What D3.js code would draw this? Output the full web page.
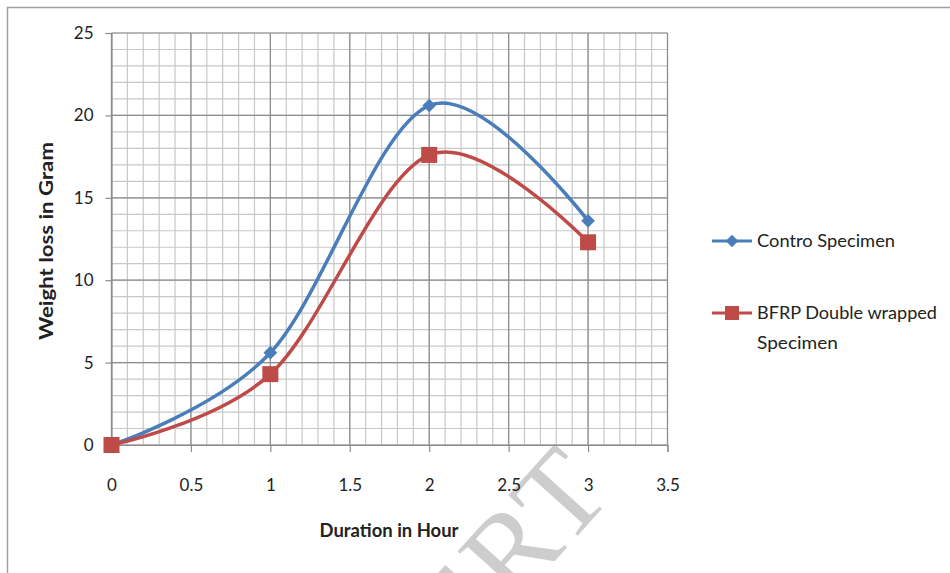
<!DOCTYPE html>
<html><head><meta charset="utf-8">
<script src="https://cdn.jsdelivr.net/npm/d3@7"></script>
<style>body{margin:0;background:#fff}svg{display:block}</style>
</head><body>
<svg id="c" width="950" height="573"></svg>
<script>
const hours = [0, 1, 2, 3];
const controlSpecimen = [0, 5.6, 20.6, 13.6];
const bfrpSpecimen = [0, 4.3, 17.6, 12.3];
const xTicks = [0, 0.5, 1, 1.5, 2, 2.5, 3, 3.5];
const yTicks = [0, 5, 10, 15, 20, 25];
const seriesNames = ["Contro Specimen", ["BFRP Double wrapped", "Specimen"]];

const svg = d3.select("#c");
const font = "Lato, 'Open Sans', sans-serif";
svg.append("rect").attr("x", 7.5).attr("y", 7.5).attr("width", 1000).attr("height", 1000)
  .attr("fill", "#fff").attr("stroke", "#a0a0a0").attr("stroke-width", 1.5);

const x = d3.scaleLinear().domain([0, 3.5]).range([111.5, 667.5]);
const y = d3.scaleLinear().domain([0, 25]).range([445, 33]);

// watermark
svg.append("text").attr("transform", "translate(462,664) rotate(-48)")
  .attr("font-family", "'Liberation Serif', serif").attr("font-size", 120).attr("fill", "#cdcdcd")
  .attr("letter-spacing", 4).text("ERT");

const g = svg.append("g");
// minor grid
d3.range(0, 3.5001, 0.1).forEach(v => {
  g.append("line").attr("x1", x(v)).attr("x2", x(v)).attr("y1", y(0)).attr("y2", y(25))
    .attr("stroke", "#c8c8c8").attr("stroke-width", 1.2);
});
d3.range(0, 25.001, 1).forEach(v => {
  g.append("line").attr("x1", x(0)).attr("x2", x(3.5)).attr("y1", y(v)).attr("y2", y(v))
    .attr("stroke", "#c8c8c8").attr("stroke-width", 1.2);
});
// major grid
xTicks.forEach(v => {
  g.append("line").attr("x1", x(v)).attr("x2", x(v)).attr("y1", y(0)).attr("y2", y(25))
    .attr("stroke", "#8c8c8c").attr("stroke-width", 1.2);
});
yTicks.forEach(v => {
  g.append("line").attr("x1", x(0)).attr("x2", x(3.5)).attr("y1", y(v)).attr("y2", y(v))
    .attr("stroke", "#8c8c8c").attr("stroke-width", 1.2);
});

// axes
const xAxis = svg.append("g").attr("transform", `translate(0,${y(0)})`)
  .call(d3.axisBottom(x).tickValues(xTicks).tickSize(7).tickFormat(d3.format("")));
const yAxis = svg.append("g").attr("transform", `translate(${x(0)},0)`)
  .call(d3.axisLeft(y).tickValues(yTicks).tickSize(6).tickPadding(12));
[xAxis, yAxis].forEach(a => {
  a.select(".domain").attr("stroke", "#8c8c8c").attr("stroke-width", 1.2);
  a.selectAll(".tick line").attr("stroke", "#8c8c8c").attr("stroke-width", 1.2);
  a.selectAll("text").attr("font-family", font).attr("font-size", 17).attr("fill", "#222");
});
xAxis.selectAll("text").attr("dy", "0.35em").attr("y", 40);

// axis titles
svg.append("text").attr("x", 389).attr("y", 531).attr("dy", "0.35em").attr("text-anchor", "middle")
  .attr("font-family", font).attr("font-weight", "bold").attr("font-size", 18).attr("fill", "#222")
  .attr("textLength", 139).attr("lengthAdjust", "spacingAndGlyphs")
  .text("Duration in Hour");
svg.append("text").attr("transform", "translate(47,241) rotate(-90)").attr("dy", "0.35em").attr("text-anchor", "middle")
  .attr("font-family", font).attr("font-weight", "bold").attr("font-size", 18).attr("fill", "#222")
  .attr("textLength", 198).attr("lengthAdjust", "spacingAndGlyphs")
  .text("Weight loss in Gram");

const line = d3.line().x((d, i) => x(hours[i])).y(d => y(d)).curve(d3.curveCardinal.tension(0));
const colors = ["#4a7ebb", "#be4b48"];
[controlSpecimen, bfrpSpecimen].forEach((s, k) => {
  svg.append("path").attr("d", line(s)).attr("fill", "none").attr("stroke", colors[k])
    .attr("stroke-width", 3.5).attr("stroke-linecap", "round");
});
const diamond = d3.symbol().type(d3.symbolDiamond2).size(120);
svg.selectAll(".dia").data(controlSpecimen).join("path")
  .attr("transform", (d, i) => `translate(${x(hours[i])},${y(d)})`)
  .attr("d", diamond).attr("fill", colors[0]);
svg.selectAll(".sq").data(bfrpSpecimen).join("rect")
  .attr("x", (d, i) => x(hours[i]) - 8).attr("y", d => y(d) - 8)
  .attr("width", 16).attr("height", 16).attr("fill", colors[1]);

// legend
const lg = svg.append("g");
lg.append("line").attr("x1", 712).attr("x2", 752).attr("y1", 241).attr("y2", 241)
  .attr("stroke", colors[0]).attr("stroke-width", 3);
lg.append("path").attr("transform", "translate(732,241)").attr("d", d3.symbol().type(d3.symbolDiamond2).size(100)).attr("fill", colors[0]);
lg.append("text").attr("x", 757).attr("y", 241).attr("dy", "0.35em").attr("font-family", font)
  .attr("font-size", 18).attr("fill", "#222").attr("textLength", 138).attr("lengthAdjust", "spacingAndGlyphs")
  .text(seriesNames[0]);
lg.append("line").attr("x1", 712).attr("x2", 752).attr("y1", 313).attr("y2", 313)
  .attr("stroke", colors[1]).attr("stroke-width", 3);
lg.append("rect").attr("x", 725).attr("y", 306).attr("width", 14).attr("height", 14).attr("fill", colors[1]);
const lens = [180, 81];
seriesNames[1].forEach((t, i) => {
  lg.append("text").attr("x", 757).attr("y", 313 + i * 30).attr("dy", "0.35em").attr("font-family", font)
    .attr("font-size", 18).attr("fill", "#222").attr("textLength", lens[i]).attr("lengthAdjust", "spacingAndGlyphs")
    .text(t);
});
</script>
</body></html>
